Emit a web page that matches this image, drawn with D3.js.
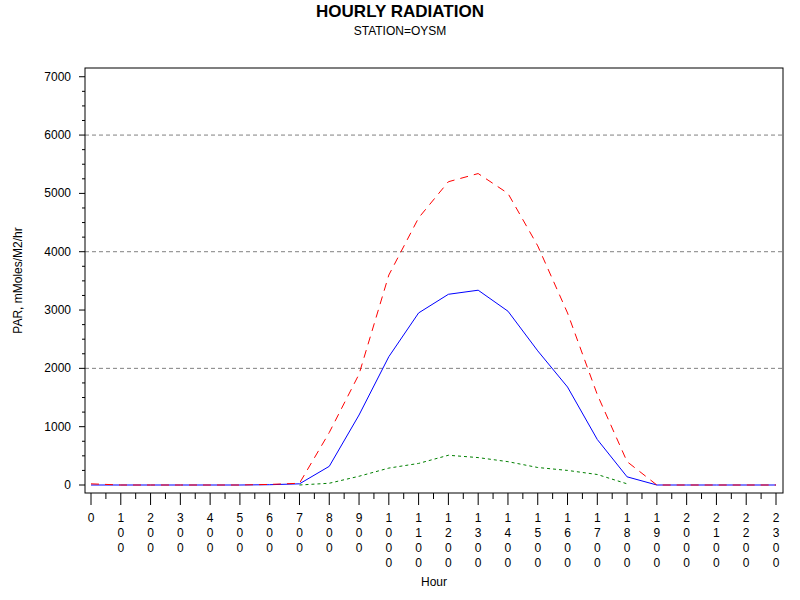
<!DOCTYPE html>
<html><head><script src="https://cdn.jsdelivr.net/npm/d3@7"></script>
<style>body{margin:0;background:#fff}</style></head>
<body><svg></svg>
<script>
const hours = d3.range(0, 24);
const meanPar = [0,0,0,0,0,0,5,20,320,1200,2200,2950,3270,3340,2980,2300,1680,780,140,0,0,0,0,0];
const maxPar = [20,0,0,0,0,0,10,30,900,1900,3600,4580,5200,5340,5000,4100,2950,1550,400,0,0,0,0,0];
const minPar = [null,null,null,null,null,null,null,0,30,150,290,370,510,470,400,300,250,180,20,null,null,null,null,null];
const yTicks = [0,1000,2000,3000,4000,5000,6000,7000];
const gridVals = [2000,4000,6000];

const svg = d3.select("svg").attr("width", 800).attr("height", 600)
  .style("font-family", "Arial, 'Liberation Sans', sans-serif");

const x = d3.scaleLinear().domain([0, 23]).range([91, 776]);
const y = d3.scaleLinear().domain([0, 7150]).range([485, 68]);
const L = 85, R = 783, T = 68, B = 493;

svg.append("text").attr("x", 400).attr("y", 17).attr("text-anchor", "middle")
  .attr("font-size", 17).attr("font-weight", "bold").text("HOURLY RADIATION");
svg.append("text").attr("x", 400).attr("y", 35).attr("text-anchor", "middle")
  .attr("font-size", 12).text("STATION=OYSM");

// grid
gridVals.forEach(v => svg.append("line").attr("x1", L).attr("x2", R)
  .attr("y1", y(v)).attr("y2", y(v)).attr("stroke", "#808080").attr("stroke-dasharray", "4,3"));

svg.append("rect").attr("x", L).attr("y", T).attr("width", R - L).attr("height", B - T)
  .attr("fill", "none").attr("stroke", "#000");

// y axis ticks
d3.range(0, 7001, 250).forEach(v => {
  const major = v % 1000 === 0;
  svg.append("line").attr("x1", L - (major ? 6 : 3)).attr("x2", L)
    .attr("y1", y(v)).attr("y2", y(v)).attr("stroke", "#000");
});
yTicks.forEach(v => svg.append("text").attr("x", L - 14).attr("y", y(v) + 4)
  .attr("text-anchor", "end").attr("font-size", 12).text(v));
svg.append("text").attr("transform", `translate(22,${(T + B) / 2}) rotate(-90)`)
  .attr("text-anchor", "middle").attr("font-size", 12).text("PAR, mMoles/M2/hr");

// x axis ticks and stacked labels
d3.range(0, 23.01, 0.5).forEach(h => {
  const major = h % 1 === 0;
  svg.append("line").attr("x1", x(h)).attr("x2", x(h)).attr("y1", B)
    .attr("y2", B + (major ? 12 : 6)).attr("stroke", "#000");
});
hours.forEach(h => {
  const lab = String(h * 100);
  const t = svg.append("text").attr("text-anchor", "middle").attr("font-size", 12);
  lab.split("").forEach((c, i) => t.append("tspan").attr("x", x(h)).attr("y", 522 + i * 15).text(c));
});
svg.append("text").attr("x", (L + R) / 2).attr("y", 586).attr("text-anchor", "middle")
  .attr("font-size", 12).text("Hour");

const line = arr => d3.line().defined((d, i) => arr[i] !== null)
  .x((d, i) => x(hours[i])).y(d => y(d))(arr);

svg.append("path").attr("d", line(minPar)).attr("fill", "none").attr("stroke", "#008000")
  .attr("stroke-dasharray", "3,3");
svg.append("path").attr("d", line(meanPar)).attr("fill", "none").attr("stroke", "#0000ff");
svg.append("path").attr("d", line(maxPar)).attr("fill", "none").attr("stroke", "#ff0000")
  .attr("stroke-dasharray", "8,6");
</script></body></html>
